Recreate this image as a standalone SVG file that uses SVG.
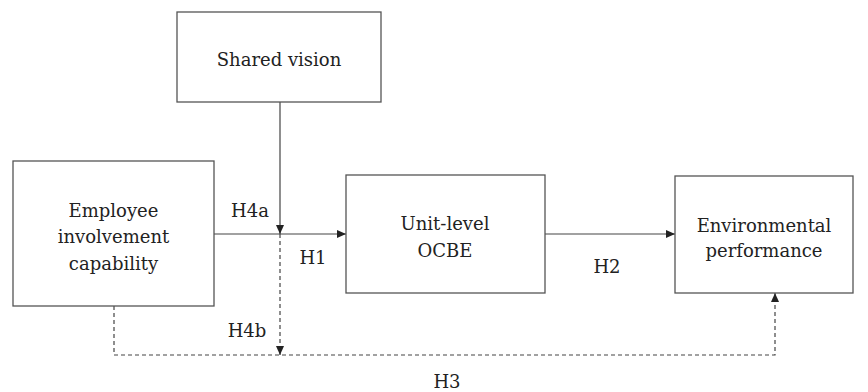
<svg xmlns="http://www.w3.org/2000/svg" width="868" height="392" viewBox="0 0 868 392">
<style>
.box{fill:#fff;stroke:#555;stroke-width:1.3}
.t{font-family:'DejaVu Serif',serif;font-size:18px;fill:#222;text-anchor:middle}
.c{fill:none;stroke:#444;stroke-width:1.2}
.d{fill:none;stroke:#444;stroke-width:1.2;stroke-dasharray:4 3}
</style>
<defs>
<marker id="ah" markerWidth="10" markerHeight="8" refX="9" refY="4" orient="auto" markerUnits="userSpaceOnUse">
<path d="M0,0 L9,4 L0,8 z" fill="#222"/>
</marker>
</defs>
<rect width="868" height="392" fill="#fff"/>
<g id="connectors">
<line class="c" x1="214" y1="234" x2="346" y2="234" marker-end="url(#ah)"/>
<line class="c" x1="280" y1="102" x2="280" y2="234" marker-end="url(#ah)"/>
<line class="c" x1="545" y1="234" x2="675" y2="234" marker-end="url(#ah)"/>
<line class="d" x1="280" y1="234" x2="280" y2="355" marker-end="url(#ah)"/>
<polyline class="d" points="114,306 114,355 775,355 775,293" marker-end="url(#ah)"/>
<text class="t" x="250" y="217">H4a</text>
<text class="t" x="313" y="264">H1</text>
<text class="t" x="247" y="337">H4b</text>
<text class="t" x="607" y="273">H2</text>
<text class="t" x="447" y="388">H3</text>
</g>
<g id="shared-vision">
<rect class="box" x="177" y="12" width="204" height="90"/>
<text class="t" x="279" y="66">Shared vision</text>
</g>
<g id="employee">
<rect class="box" x="13" y="161" width="201" height="145"/>
<text class="t" x="113.5" y="217">Employee</text>
<text class="t" x="113.5" y="243">involvement</text>
<text class="t" x="113.5" y="270">capability</text>
</g>
<g id="ocbe">
<rect class="box" x="346" y="175" width="199" height="118"/>
<text class="t" x="445" y="230">Unit-level</text>
<text class="t" x="445" y="257">OCBE</text>
</g>
<g id="env">
<rect class="box" x="675" y="176" width="178" height="117"/>
<text class="t" x="764" y="232">Environmental</text>
<text class="t" x="764" y="257">performance</text>
</g>
</svg>
